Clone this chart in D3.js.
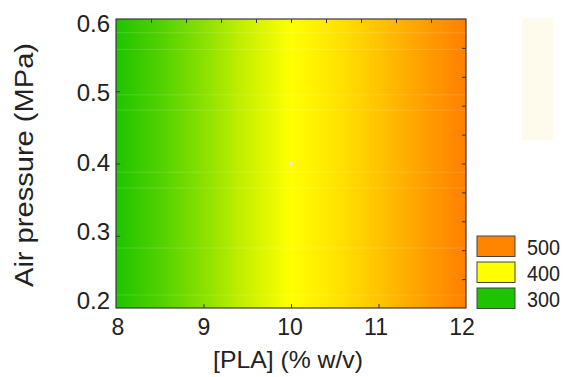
<!DOCTYPE html>
<html>
<head>
<meta charset="utf-8">
<script src="https://cdn.jsdelivr.net/npm/d3@7"></script>
<style>
  body { margin: 0; background: #fff; }
  text { font-family: "Liberation Sans", Arial, sans-serif; fill: #222; }
</style>
</head>
<body>
<script>
// response read along the PLA axis (it barely changes with pressure)
var plaValues = [8, 8.5, 9, 9.5, 10, 10.5, 11, 11.5, 12];
var response = [300, 322, 348, 376, 400, 420, 446, 474, 500];
var xTicks = [8, 9, 10, 11, 12];
var yTicks = [0.2, 0.3, 0.4, 0.5, 0.6];
var legendLevels = [500, 400, 300];
var designPoint = [10, 0.4];
// faint light streaks across the surface
var streaks = [0.581, 0.558, 0.495, 0.474, 0.388, 0.366, 0.283, 0.218];

var svgWidth = 567;
var svgHeight = 377;
var margin = {top: 19, right: 101, bottom: 69, left: 116};
var width = svgWidth - margin.left - margin.right;
var height = svgHeight - margin.top - margin.bottom;

var svg = d3.select('body').append('svg')
    .attr('width', svgWidth)
    .attr('height', svgHeight);

var xScale = d3.scaleLinear().domain([8, 12]).range([0, width]);
var yScale = d3.scaleLinear().domain([0.2, 0.6]).range([height, 0]);
// labels sit a little inside the ends of the axes
var xLabScale = d3.scaleLinear().domain([8, 12]).range([2, width - 4]);
var yLabScale = d3.scaleLinear().domain([0.2, 0.6]).range([height - 7.5, 4.5]);
var color = d3.scaleLinear()
    .domain([300, 400, 500])
    .range(['#1ec400', '#ffff00', '#ff7f00']);

// faint leftover box at top right
svg.append('rect')
    .attr('x', 522).attr('y', 18)
    .attr('width', 31).attr('height', 122)
    .attr('fill', '#fffbec');

var grad = svg.append('defs').append('linearGradient')
    .attr('id', 'surf')
    .attr('x1', '0%').attr('x2', '100%')
    .attr('y1', '0%').attr('y2', '0%');

grad.selectAll('stop').data(plaValues)
    .enter().append('stop')
    .attr('offset', d => (xScale(d) / width * 100) + '%')
    .attr('stop-color', (d, i) => color(response[i]));

var g = svg.append('g')
    .attr('transform', `translate(${margin.left},${margin.top})`);

g.append('rect')
    .attr('width', width).attr('height', height)
    .attr('fill', 'url(#surf)');

g.selectAll('.streak').data(streaks).enter().append('line')
    .attr('x1', 0).attr('x2', width)
    .attr('y1', d => yScale(d)).attr('y2', d => yScale(d))
    .attr('stroke', '#fff').attr('stroke-opacity', 0.15);

g.append('circle')
    .attr('cx', xScale(designPoint[0]))
    .attr('cy', yScale(designPoint[1]))
    .attr('r', 1.8)
    .attr('fill', '#e8e8e8');

// inner ticks on all four sides
var tickCol = '#333';
g.append('g').attr('transform', `translate(0,${height})`)
    .call(d3.axisTop(xScale).tickValues([9, 10, 11]).tickSize(4).tickFormat(''))
    .call(a => a.select('.domain').remove())
    .selectAll('line').attr('stroke', tickCol);
g.append('g')
    .call(d3.axisBottom(xScale).tickValues(d3.range(8.4, 11.9, 0.4)).tickSize(4).tickFormat(''))
    .call(a => a.select('.domain').remove())
    .selectAll('line').attr('stroke', tickCol);
g.append('g')
    .call(d3.axisRight(yScale).tickValues([0.3, 0.4, 0.5]).tickSize(4).tickFormat(''))
    .call(a => a.select('.domain').remove())
    .selectAll('line').attr('stroke', tickCol);
g.append('g').attr('transform', `translate(${width},0)`)
    .call(d3.axisLeft(yScale).tickValues(d3.range(0.24, 0.59, 0.04)).tickSize(4).tickFormat(''))
    .call(a => a.select('.domain').remove())
    .selectAll('line').attr('stroke', tickCol);

g.append('rect')
    .attr('width', width).attr('height', height)
    .attr('fill', 'none')
    .attr('stroke', '#3a3a3a').attr('stroke-width', 1.2);

// tick labels
g.selectAll('.xLab').data(xTicks).enter().append('text')
    .attr('x', d => xLabScale(d))
    .attr('y', height + 27)
    .attr('text-anchor', 'middle')
    .attr('font-size', '23px')
    .text(d => d);

g.selectAll('.yLab').data(yTicks).enter().append('text')
    .attr('x', -6)
    .attr('y', d => yLabScale(d) + 8.5)
    .attr('text-anchor', 'end')
    .attr('font-size', '24px')
    .text(d => d.toFixed(1));

g.append('text')
    .attr('x', 172)
    .attr('y', height + 60)
    .attr('text-anchor', 'middle')
    .attr('font-size', '24px')
    .attr('textLength', 150)
    .attr('lengthAdjust', 'spacingAndGlyphs')
    .text('[PLA] (% w/v)');

g.append('text')
    .attr('transform', `translate(${-83},146) rotate(-90)`)
    .attr('text-anchor', 'middle')
    .attr('font-size', '25px')
    .attr('textLength', 244)
    .attr('lengthAdjust', 'spacingAndGlyphs')
    .text('Air pressure (MPa)');

// legend
var legend = svg.append('g').attr('transform', 'translate(477,236)');
legend.selectAll('rect').data(legendLevels).enter().append('rect')
    .attr('x', 0)
    .attr('y', (d, i) => i * 26)
    .attr('width', 38).attr('height', 20.5)
    .attr('fill', d => d === 400 ? '#ffff00' : d === 500 ? '#ff8400' : '#1ec400')
    .attr('stroke', '#444').attr('stroke-width', 1);
legend.selectAll('text').data(legendLevels).enter().append('text')
    .attr('x', 50)
    .attr('y', (d, i) => i * 26 + 19)
    .attr('font-size', '22px')
    .attr('textLength', 33)
    .attr('lengthAdjust', 'spacingAndGlyphs')
    .text(d => d);
</script>
</body>
</html>
